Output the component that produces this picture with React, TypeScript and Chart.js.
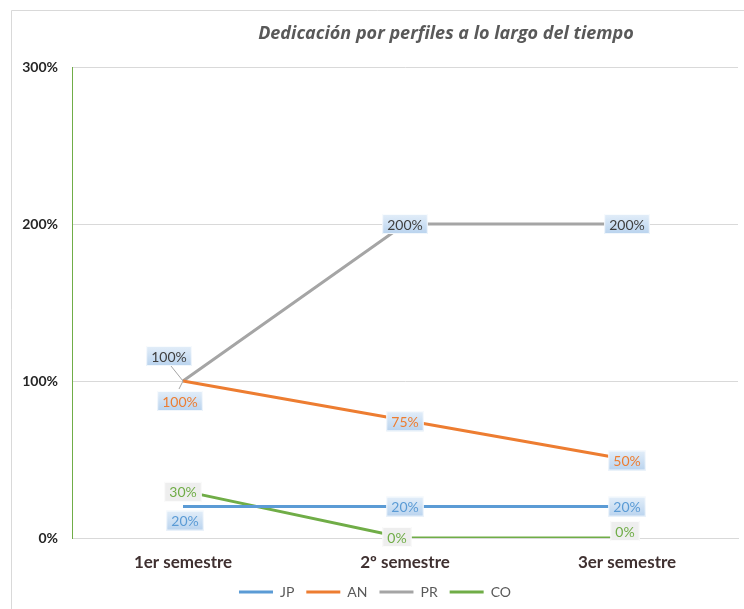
import React, { useEffect, useRef } from "react";
import { Chart, registerables } from "chart.js";

Chart.register(...registerables);

const categories = ["1er semestre", "2º semestre", "3er semestre"];
const jp = [0.2, 0.2, 0.2];
const an = [1.0, 0.75, 0.5];
const pr = [1.0, 2.0, 2.0];
const co = [0.3, 0, 0];
const yTicks = [0, 1, 2, 3];

const colors = { JP: "#5b9bd5", AN: "#ed7d31", PR: "#a5a5a5", CO: "#70ad47" };

// label placement (style): [datasetIndex, dataIndex, dx, dy, box]
const labelPlacement: [number, number, number, number, string][] = [
  [0, 0, 2, 14, "blue"],
  [0, 1, 0, 0, "blue"],
  [0, 2, 0, 0, "blue"],
  [1, 0, -3, 20, "blue"],
  [1, 1, 0, 1, "blue"],
  [1, 2, 0, 1, "blue"],
  [2, 0, -14, -25, "blue"],
  [2, 1, 0, 0, "blue"],
  [2, 2, 0, 0, "blue"],
  [3, 0, 0, 1, "gray"],
  [3, 1, -8, -1, "gray"],
  [3, 2, -2, -7, "gray"],
];

const textColors = ["#5b9bd5", "#ed7d31", "#404040", "#70ad47"];

const pct = (v: number) => Math.round(v * 100) + "%";

const framePlugin = {
  id: "frame",
  beforeDraw(chart: any) {
    const ctx = chart.ctx;
    ctx.save();
    ctx.fillStyle = "#ffffff";
    ctx.fillRect(0, 0, chart.width, chart.height);
    ctx.strokeStyle = "#d9d9d9";
    ctx.lineWidth = 1;
    ctx.beginPath();
    ctx.moveTo(11.5, chart.height);
    ctx.lineTo(11.5, 10.5);
    ctx.lineTo(chart.width, 10.5);
    ctx.stroke();
    // title
    ctx.font = "italic bold 18px 'Open Sans'";
    ctx.fillStyle = "#595959";
    ctx.textAlign = "center";
    ctx.textBaseline = "middle";
    ctx.fillText("Dedicación por perfiles a lo largo del tiempo", 446, 34);
    ctx.restore();
  },
};

const labelPlugin = {
  id: "boxLabels",
  afterDatasetsDraw(chart: any) {
    const ctx = chart.ctx;
    ctx.save();
    ctx.font = "14px Lato";
    ctx.textAlign = "center";
    ctx.textBaseline = "middle";
    for (const [di, i, dx, dy, box] of labelPlacement) {
      const meta = chart.getDatasetMeta(di);
      const pt = meta.data[i];
      const v = chart.data.datasets[di].data[i] as number;
      const text = pct(v);
      const x = pt.x + dx;
      const y = pt.y + dy;
      const w = ctx.measureText(text).width + 10;
      const h = 20;
      if (di === 2 && i === 0) {
        ctx.strokeStyle = "#a5a5a5";
        ctx.lineWidth = 1;
        ctx.beginPath();
        ctx.moveTo(pt.x, pt.y);
        ctx.lineTo(x + 2, y + h / 2);
        ctx.stroke();
        ctx.beginPath();
        ctx.moveTo(pt.x, pt.y);
        ctx.lineTo(pt.x - 4, pt.y + 8);
        ctx.stroke();
      }
      if (box === "blue") {
        const g = ctx.createLinearGradient(0, y - h / 2, 0, y + h / 2);
        g.addColorStop(0, "#e3eef9");
        g.addColorStop(1, "#b9d3ee");
        ctx.fillStyle = g;
      } else {
        ctx.fillStyle = "#eeeeee";
      }
      ctx.fillRect(x - w / 2, y - h / 2, w, h);
      ctx.strokeStyle = "rgba(255,255,255,0.8)";
      ctx.lineWidth = 1;
      ctx.strokeRect(x - w / 2 + 0.5, y - h / 2 + 0.5, w - 1, h - 1);
      ctx.fillStyle = textColors[di];
      ctx.fillText(text, x, y + 1);
    }
    ctx.restore();
  },
};

export default function App() {
  const ref = useRef<HTMLCanvasElement>(null);
  useEffect(() => {
    if (!ref.current) return;
    const mk = (label: string, data: number[], color: string) => ({
      label,
      data,
      borderColor: color,
      backgroundColor: color,
      borderWidth: 3,
      pointRadius: 0,
      tension: 0,
    });
    const chart = new Chart(ref.current, {
      type: "line",
      data: {
        labels: categories,
        datasets: [
          mk("JP", jp, colors.JP),
          mk("AN", an, colors.AN),
          mk("PR", pr, colors.PR),
          mk("CO", co, colors.CO),
        ],
      },
      plugins: [framePlugin, labelPlugin],
      options: {
        animation: false,
        responsive: false,
        maintainAspectRatio: false,
        layout: { padding: { top: 67, left: 12, right: 6, bottom: 0 } },
        scales: {
          x: {
            offset: true,
            grid: { display: false, drawTicks: false },
            border: { color: "#d9d9d9", width: 1 },
            ticks: {
              color: "#3f3030",
              font: { family: "Lato", size: 17, weight: "bold" },
              padding: 14,
            },
            afterFit: (s: any) => {
              s.height = 35;
            },
          },
          y: {
            min: 0,
            max: 3,
            afterBuildTicks: (s: any) => {
              s.ticks = yTicks.map((v) => ({ value: v }));
            },
            grid: { color: "#d9d9d9", drawTicks: false },
            border: { color: "#70ad47", width: 1 },
            ticks: {
              color: "#262626",
              font: { family: "Lato", size: 14, weight: "bold" },
              padding: 14,
              callback: (v: any) => pct(Number(v)),
            },
            afterFit: (s: any) => {
              s.width = 60;
            },
          },
        },
        plugins: {
          title: { display: false },
          tooltip: { enabled: false },
          legend: {
            position: "bottom",
            labels: {
              color: "#595959",
              font: { family: "Lato", size: 14 },
              boxWidth: 34,
              boxHeight: 3,
              padding: 12,
              generateLabels: (c: any) =>
                c.data.datasets.map((d: any, i: number) => ({
                  text: d.label,
                  fillStyle: d.borderColor,
                  strokeStyle: d.borderColor,
                  lineWidth: 0,
                  fontColor: "#595959",
                  datasetIndex: i,
                  hidden: false,
                })),
            },
          },
        },
      },
    });
    return () => chart.destroy();
  }, []);
  return (
    <div style={{ position: "absolute", left: 0, top: 0, width: 744, height: 609 }}>
      <canvas ref={ref} width={744} height={609} style={{ display: "block" }} />
    </div>
  );
}
